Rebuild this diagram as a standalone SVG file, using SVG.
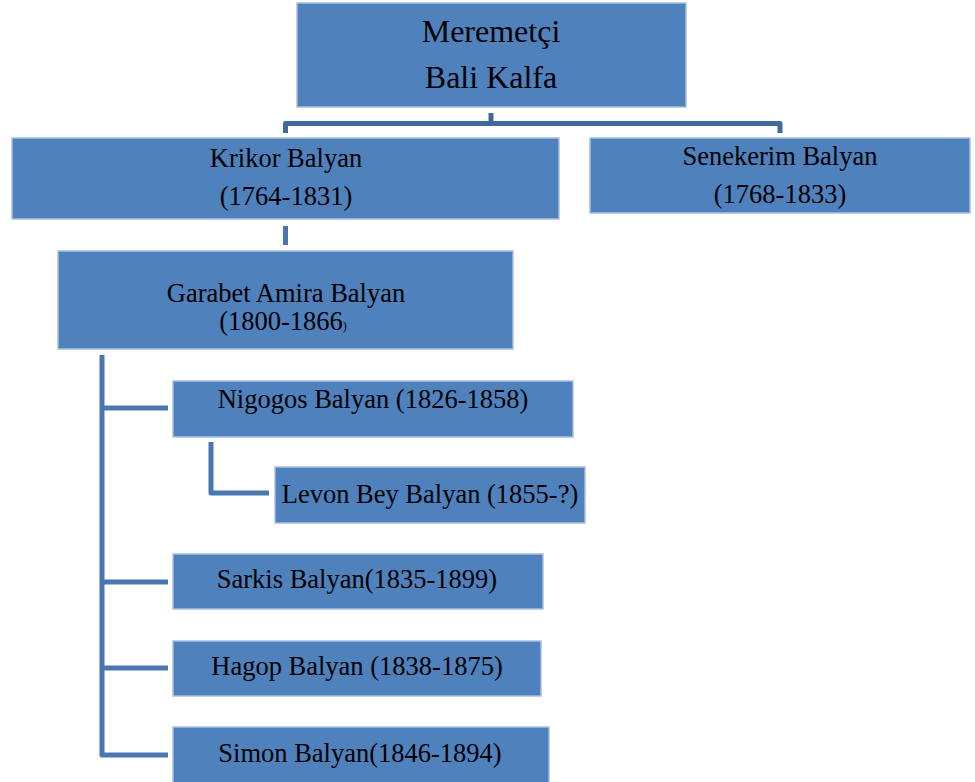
<svg xmlns="http://www.w3.org/2000/svg" width="975" height="782" viewBox="0 0 975 782">
<style>
.box{fill:#4F81BD;stroke:#A9C0DF;stroke-width:1.5}
.t{font-family:"Liberation Serif","Times New Roman",serif;font-size:26.5px;fill:#000;text-anchor:middle}
.big{font-size:32px}
.c{fill:none;stroke:#4A77AE;stroke-width:5;stroke-linejoin:round}
.cb{stroke:#41699B}
</style>
<rect width="975" height="782" fill="#fff"/>
<g id="connectors">
<path class="c cb" d="M491,113 V123.5 M285.5,133 V123.5 H780 V133"/>
<path class="c" d="M285.5,226 V245"/>
<path class="c" d="M102,355 V755 H168 M102,408 H168 M102,582 H168 M102,668 H168"/>
<path class="c" d="M211,442 V493 H269"/>
</g>
<g id="meremetci"><rect class="box" x="297" y="3" width="389" height="104"/>
<text class="t big" x="491" y="42">Meremetçi</text><text class="t big" x="491" y="88">Bali Kalfa</text></g>
<g id="krikor"><rect class="box" x="12" y="138" width="547" height="81"/>
<text class="t" x="286" y="167">Krikor Balyan</text><text class="t" x="286" y="205">(1764-1831)</text></g>
<g id="senekerim"><rect class="box" x="590" y="138" width="380" height="75"/>
<text class="t" x="780" y="165">Senekerim Balyan</text><text class="t" x="780" y="203">(1768-1833)</text></g>
<g id="garabet"><rect class="box" x="58" y="251" width="455" height="98"/>
<text class="t" x="286" y="302">Garabet Amira Balyan</text><text class="t" x="283" y="330">(1800-1866<tspan font-size="12">)</tspan></text></g>
<g id="nigogos"><rect class="box" x="173" y="381" width="400" height="56"/>
<text class="t" x="373" y="408">Nigogos Balyan (1826-1858)</text></g>
<g id="levon"><rect class="box" x="275" y="467" width="310" height="56"/>
<text class="t" x="430" y="503">Levon Bey Balyan (1855-?)</text></g>
<g id="sarkis"><rect class="box" x="173" y="554" width="370" height="55"/>
<text class="t" x="357" y="588">Sarkis Balyan(1835-1899)</text></g>
<g id="hagop"><rect class="box" x="173" y="641" width="368" height="55"/>
<text class="t" x="357" y="675">Hagop Balyan (1838-1875)</text></g>
<g id="simon"><rect class="box" x="173" y="727" width="376" height="56"/>
<text class="t" x="360" y="762">Simon Balyan(1846-1894)</text></g>
</svg>
